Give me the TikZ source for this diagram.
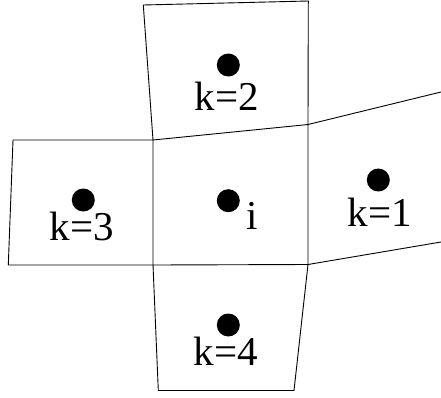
\documentclass[tikz,border=0pt]{standalone}
\usepackage{fontspec}
\setmainfont{Liberation Serif}

\begin{document}
\begin{tikzpicture}[x=1pt, y=-1pt, line width=0.9pt,
  cell/.style={draw, line join=miter},
  ctr/.style={circle, fill, inner sep=0pt, minimum size=23pt},
  lbl/.style={anchor=base, inner sep=0pt, font=\fontsize{41}{46}\selectfont}]
\useasboundingbox (0,0) rectangle (441,397);
% --- corners of the centre cell i ---
\coordinate (a) at (153,140);
\coordinate (b) at (308,124.5);
\coordinate (c) at (308,264.5);
\coordinate (d) at (153,265);
% --- cell outlines ---
\draw[cell] (a) -- (b) -- (c) -- (d) -- cycle;
\draw[cell] (a) -- (143.3,5) -- (308.3,1) -- (b);          % k=2
\draw[cell] (a) -- (13,140) -- (8.3,265) -- (d);            % k=3
\draw[cell] (b) -- (441,92) (c) -- (441,242);               % k=1 (open to the right)
\draw[cell] (d) -- (158.3,390.5) -- (294,390.5) -- (c);     % k=4
% --- cell centres and labels ---
\node[ctr] (di) at (228.3,200.7) {};
\node[lbl] (li) at (252.5,229) {i};
\node[ctr] (d1) at (378.3,180) {};
\node[lbl] (l1) at (380,226) {k=1};
\node[ctr] (d2) at (228.3,65) {};
\node[lbl] (l2) at (226.7,110) {k=2};
\node[ctr] (d3) at (83.3,200) {};
\node[lbl] (l3) at (81.7,240) {k=3};
\node[ctr] (d4) at (228.3,325) {};
\node[lbl] (l4) at (226,365) {k=4};
\end{tikzpicture}
\end{document}
